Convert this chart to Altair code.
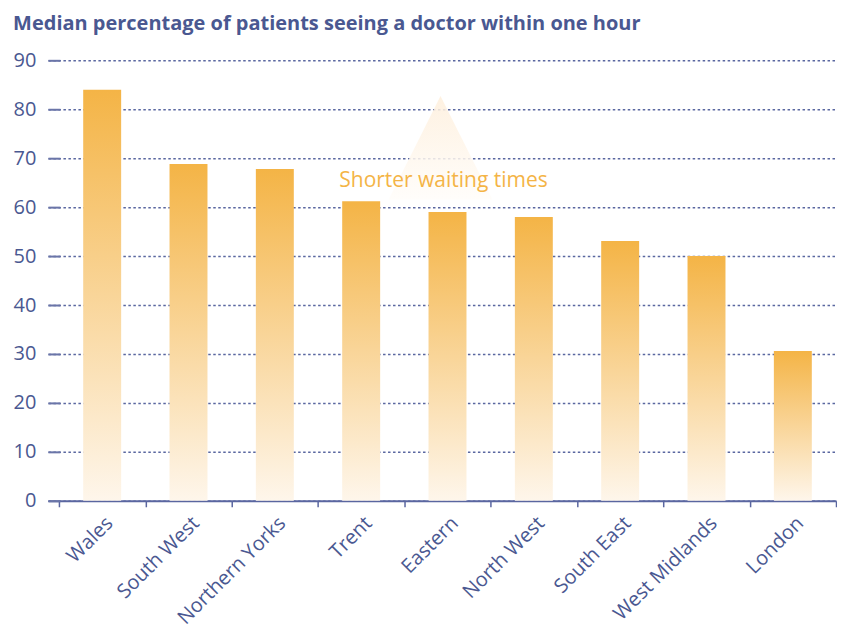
import altair as alt
import pandas as pd

# ---- data ----
regions = ["Wales", "South West", "Northern Yorks", "Trent", "Eastern",
           "North West", "South East", "West Midlands", "London"]
values = [84.0, 68.8, 67.8, 61.2, 59.0, 58.0, 53.1, 50.0, 30.6]
y_ticks = [0, 10, 20, 30, 40, 50, 60, 70, 80, 90]
title_text = "Median percentage of patients seeing a doctor within one hour"
note_text = ["Shorter waiting times"]
note_region = ["Eastern"]
note_value = [65.3]
arrow_value = [72.1]

NAVY = "#4a5891"
ORANGE = "#f4b446"
FONT = "Open Sans"

bars_df = pd.DataFrame({"region": regions, "value": values})
note_df = pd.DataFrame({"region": note_region, "value": note_value, "text": note_text})
arrow_df = pd.DataFrame({"region": note_region, "value": arrow_value})

bar_gradient = alt.LinearGradient(
    gradient="linear", x1=0, y1=0, x2=0, y2=1,
    stops=[alt.GradientStop(offset=0, color=ORANGE),
           alt.GradientStop(offset=1, color="#fef6eb")],
)
arrow_gradient = alt.LinearGradient(
    gradient="linear", x1=0, y1=0, x2=0, y2=1,
    stops=[alt.GradientStop(offset=0, color="#feefdc"),
           alt.GradientStop(offset=1, color="#fffdfa")],
)

x_enc = alt.X(
    "region:N", sort=regions, title=None,
    scale=alt.Scale(paddingInner=0, paddingOuter=0.064, align=1),
    axis=alt.Axis(
        labelAngle=-45, tickBand="extent", grid=False,
        domainColor="#5a66a0", domainWidth=2,
        tickColor="#5a66a0", tickSize=6, tickWidth=1.5,
        labelFontSize=20, labelColor=NAVY, labelFont=FONT, labelPadding=6,
    ),
)
y_enc = alt.Y(
    "value:Q", title=None,
    scale=alt.Scale(domain=[0, 90], nice=False),
    axis=alt.Axis(
        values=y_ticks, domain=False, offset=-12,
        tickSize=12, tickWidth=2, tickColor="#6a75a8",
        grid=True, gridColor="#5a67a0", gridDash=[2.5, 2.5], gridWidth=1.5,
        labelFontSize=20, labelColor=NAVY, labelFont=FONT, labelPadding=12,
    ),
)

arrow = alt.Chart(arrow_df).mark_point(
    shape="M0,-1L-1,1L1,1Z", size=10816, filled=True, fill=arrow_gradient,
    opacity=0.85, strokeWidth=0, xOffset=-7,
).encode(x=alt.X("region:N", sort=regions), y="value:Q")

note = alt.Chart(note_df).mark_text(
    font=FONT, fontSize=21, color=ORANGE, xOffset=-4,
).encode(x=alt.X("region:N", sort=regions), y="value:Q", text="text:N")

bars = alt.Chart(bars_df).mark_bar(size=38, fill=bar_gradient).encode(x=x_enc, y=y_enc)

chart = alt.layer(bars, arrow, note).properties(
    width=789, height=441,
    padding={"left": 5, "right": 0, "top": 6, "bottom": 0},
    title=alt.TitleParams(
        title_text, anchor="start", frame="bounds", font=FONT, fontSize=20,
        fontWeight="bold", color=NAVY, offset=16,
    ),
).configure_view(stroke=None)

chart.save("out.html", embed_options={"renderer": "svg", "actions": False})
